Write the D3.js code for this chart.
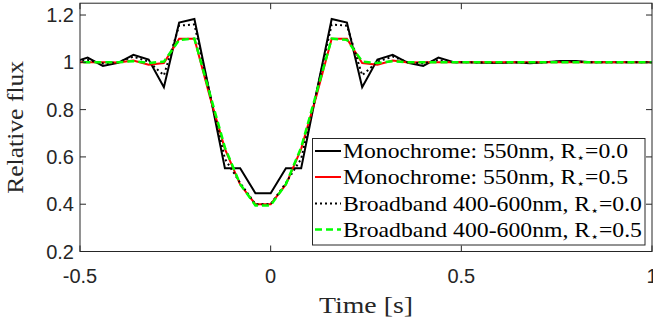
<!DOCTYPE html>
<html>
<head>
<meta charset="utf-8">
<script src="https://cdnjs.cloudflare.com/ajax/libs/d3/7.8.5/d3.min.js"></script>
<style>
  body { margin: 0; background: #fff; }
  svg { display: block; }
</style>
</head>
<body>
<script>
// sample times (s)
var times = [-0.52, -0.48, -0.44, -0.40, -0.36, -0.32, -0.28, -0.24, -0.20, -0.16,
             -0.12, -0.08, -0.04, 0.00, 0.04, 0.08, 0.12, 0.16, 0.20, 0.24,
             0.28, 0.32, 0.36, 0.40, 0.44, 0.48, 0.52, 0.56, 0.60, 0.64,
             0.68, 0.72, 0.76, 0.80, 0.84, 0.88, 0.92, 0.96, 1.00];

var monoR0 = [1.000, 1.020, 0.985, 0.998, 1.032, 1.012, 0.895, 1.168, 1.183, 0.872,
              0.552, 0.552, 0.446, 0.446, 0.552, 0.552, 0.872, 1.183, 1.168, 0.895,
              1.012, 1.032, 0.998, 0.985, 1.020, 1.000, 1.000, 0.998, 0.997, 1.000,
              0.996, 1.000, 1.006, 1.006, 1.000, 1.000, 1.000, 1.000, 1.000];

var monoR05 = [1.000, 1.000, 1.000, 0.999, 1.008, 0.990, 0.997, 1.100, 1.100, 0.858,
               0.634, 0.483, 0.400, 0.400, 0.483, 0.634, 0.858, 1.100, 1.100, 0.997,
               0.990, 1.008, 0.999, 1.000, 1.000, 1.000, 1.000, 1.000, 1.000, 1.000,
               1.000, 1.000, 1.000, 1.000, 1.000, 1.000, 1.000, 1.000, 1.000];

var broadR0 = [1.000, 1.010, 0.995, 1.000, 1.024, 1.003, 0.945, 1.155, 1.160, 0.870,
               0.592, 0.490, 0.400, 0.400, 0.490, 0.592, 0.870, 1.160, 1.155, 0.945,
               1.003, 1.024, 1.000, 0.995, 1.010, 1.000, 1.000, 0.999, 0.998, 1.000,
               0.998, 1.000, 1.003, 1.003, 1.000, 1.000, 1.000, 1.000, 1.000];

var broadR05 = [1.000, 1.000, 1.000, 1.000, 1.005, 0.997, 1.003, 1.095, 1.100, 0.870,
                0.640, 0.485, 0.395, 0.395, 0.485, 0.640, 0.870, 1.100, 1.095, 1.003,
                0.997, 1.005, 1.000, 1.000, 1.000, 1.000, 1.000, 1.000, 1.000, 1.000,
                1.000, 1.000, 1.000, 1.000, 1.000, 1.000, 1.000, 1.000, 1.000];

var xTicks = [-0.5, 0, 0.5, 1];
var xTickLabels = ["-0.5", "0", "0.5", "1"];
var yTicks = [0.2, 0.4, 0.6, 0.8, 1.0, 1.2];
var yTickLabels = ["0.2", "0.4", "0.6", "0.8", "1", "1.2"];

var legendNames = ["Monochrome:  550nm, R", "Monochrome:  550nm, R",
                   "Broadband 400-600nm, R", "Broadband 400-600nm, R"];
var legendSuffix = ["=0.0", "=0.5", "=0.0", "=0.5"];

var series = [
  { values: monoR0,   color: "#000",    width: 2,   dash: null },
  { values: monoR05,  color: "#ff0000", width: 2,   dash: null },
  { values: broadR0,  color: "#000",    width: 2,   dash: "2,3" },
  { values: broadR05, color: "#00ff00", width: 2.5, dash: "7,4" }
];

var W = 653, H = 327;
var axisCol = "#262626";
var tickFont = "'Liberation Sans', Arial, sans-serif";
var serif = "'Liberation Serif', 'Times New Roman', serif";

var svg = d3.select("body").append("svg")
  .attr("width", W)
  .attr("height", H);

var x = d3.scaleLinear().domain([-0.5, 1]).range([80, 652]);
var y = d3.scaleLinear().domain([0.2, 1.25]).range([251.5, 3.2]);

svg.append("clipPath").attr("id", "plotclip")
  .append("rect")
  .attr("x", x(-0.5)).attr("y", y(1.25))
  .attr("width", x(1) - x(-0.5)).attr("height", y(0.2) - y(1.25));

// curves
var line = d3.line()
  .x(function (d) { return x(d[0]); })
  .y(function (d) { return y(d[1]); });

var curves = svg.append("g").attr("clip-path", "url(#plotclip)");
series.forEach(function (s) {
  curves.append("path")
    .datum(times.map(function (t, i) { return [t, s.values[i]]; }))
    .attr("d", line)
    .attr("fill", "none")
    .attr("stroke", s.color)
    .attr("stroke-width", s.width)
    .attr("stroke-linejoin", "miter")
    .attr("stroke-dasharray", s.dash);
});

// box + inward ticks on all four sides
var tl = 6;
var axes = svg.append("g").attr("stroke", axisCol).attr("stroke-width", 1).attr("fill", "none");
axes.append("rect")
  .attr("x", x(-0.5)).attr("y", y(1.25))
  .attr("width", x(1) - x(-0.5)).attr("height", y(0.2) - y(1.25));

xTicks.forEach(function (t) {
  axes.append("line").attr("x1", x(t)).attr("x2", x(t)).attr("y1", y(0.2)).attr("y2", y(0.2) - tl);
  axes.append("line").attr("x1", x(t)).attr("x2", x(t)).attr("y1", y(1.25)).attr("y2", y(1.25) + tl);
});
yTicks.forEach(function (t) {
  axes.append("line").attr("x1", x(-0.5)).attr("x2", x(-0.5) + tl).attr("y1", y(t)).attr("y2", y(t));
  axes.append("line").attr("x1", x(1)).attr("x2", x(1) - tl).attr("y1", y(t)).attr("y2", y(t));
});

// tick labels
svg.append("g").selectAll("text")
  .data(xTicks)
  .enter().append("text")
  .attr("x", function (d) { return x(d); })
  .attr("y", y(0.2) + 31)
  .attr("text-anchor", "middle")
  .style("font-family", tickFont)
  .style("font-size", "20px")
  .attr("fill", axisCol)
  .text(function (d, i) { return xTickLabels[i]; });

svg.append("g").selectAll("text")
  .data(yTicks)
  .enter().append("text")
  .attr("x", x(-0.5) - 6)
  .attr("y", function (d) { return y(d) + 7; })
  .attr("text-anchor", "end")
  .style("font-family", tickFont)
  .style("font-size", "20px")
  .attr("fill", axisCol)
  .text(function (d, i) { return yTickLabels[i]; });

// axis titles
svg.append("text")
  .attr("x", (x(-0.5) + x(1)) / 2)
  .attr("y", 313)
  .attr("text-anchor", "middle")
  .attr("textLength", 94)
  .attr("lengthAdjust", "spacingAndGlyphs")
  .style("font-family", serif)
  .style("font-size", "24px")
  .attr("fill", axisCol)
  .text("Time [s]");

svg.append("text")
  .attr("transform", "translate(23," + ((y(0.2) + y(1.25)) / 2) + ") rotate(-90)")
  .attr("text-anchor", "middle")
  .attr("textLength", 133)
  .attr("lengthAdjust", "spacingAndGlyphs")
  .style("font-family", serif)
  .style("font-size", "23px")
  .attr("fill", axisCol)
  .text("Relative flux");

// legend
var lg = svg.append("g");
lg.append("rect")
  .attr("x", 312.5).attr("y", 138.5)
  .attr("width", 332.5).attr("height", 106.5)
  .attr("fill", "#fff")
  .attr("stroke", axisCol)
  .attr("stroke-width", 1);

var rowY = [151, 177, 203.5, 229.5];
var rowW = [285, 285, 299, 299];
series.forEach(function (s, i) {
  lg.append("line")
    .attr("x1", 315).attr("x2", 341)
    .attr("y1", rowY[i]).attr("y2", rowY[i])
    .attr("stroke", s.color)
    .attr("stroke-width", s.width)
    .attr("stroke-dasharray", s.dash);

  var txt = lg.append("text")
    .attr("x", 343)
    .attr("y", rowY[i] + 7)
    .attr("textLength", rowW[i])
    .attr("lengthAdjust", "spacingAndGlyphs")
    .style("font-family", serif)
    .style("font-size", "22px")
    .attr("fill", "#000");
  txt.append("tspan").text(legendNames[i]);
  txt.append("tspan")
    .attr("dy", 4)
    .style("font-family", "'DejaVu Sans', sans-serif")
    .style("font-size", "13px")
    .text("\u22C6");
  txt.append("tspan")
    .attr("dy", -4)
    .text(legendSuffix[i]);
});
</script>
</body>
</html>
